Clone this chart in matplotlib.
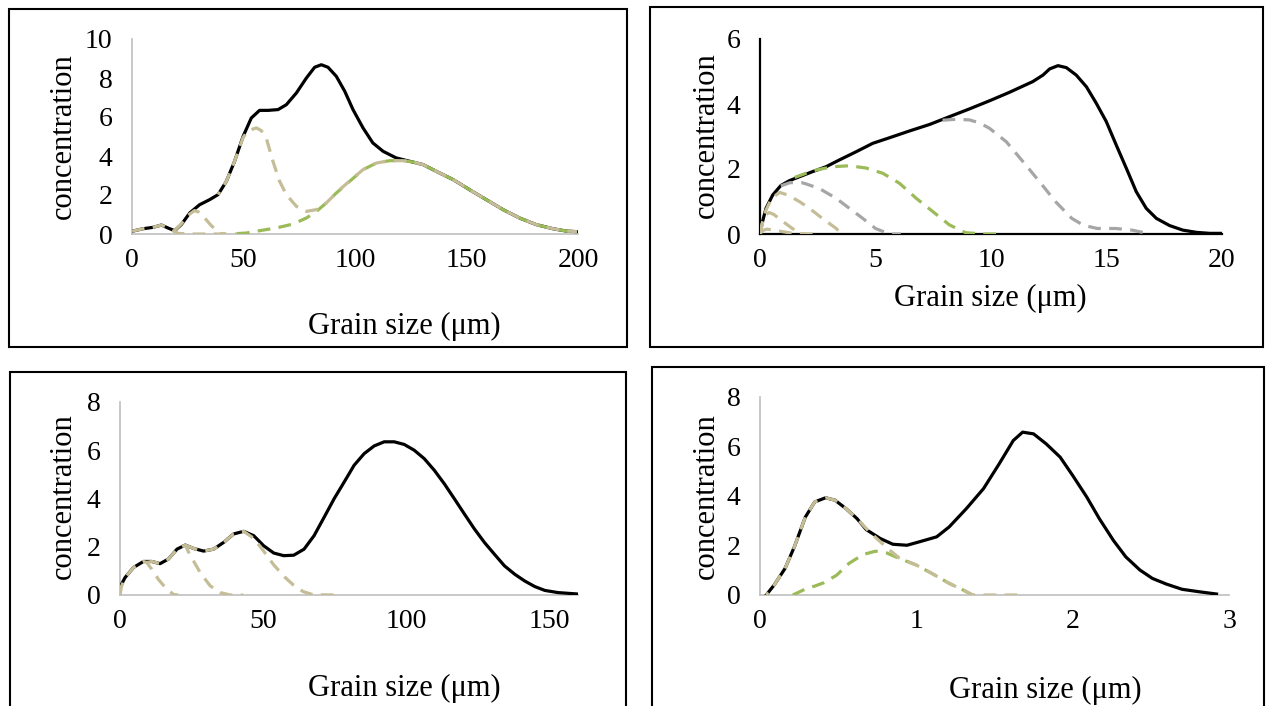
import matplotlib
matplotlib.use("Agg")
import matplotlib.pyplot as plt
from matplotlib.patches import Rectangle

plt.rcParams['font.family'] = ['Liberation Serif', 'DejaVu Serif']
plt.rcParams['lines.solid_joinstyle'] = 'round'
plt.rcParams['lines.dash_joinstyle'] = 'round'

# ---------------- Panel 1 (0-200 um) ----------------
p1_total_x = [0, 4.9, 9.4, 13.2, 16.1, 19.1, 22.1, 25.9, 30.3, 34.8, 38.6, 42.3, 46, 49.8, 53.5, 57.2, 61, 65.5,
              69.2, 73.7, 78.2, 81.9, 84.9, 87.9, 91.6, 95.4, 99.1, 103.6, 108, 112.6, 118.5, 124.5, 130.5, 136.5,
              144, 151.4, 158.9, 166.4, 173.8, 181.3, 188.8, 194.8, 199.6]
p1_total_y = [0.14, 0.27, 0.34, 0.46, 0.31, 0.17, 0.48, 1.08, 1.5, 1.76, 2.02, 2.7, 3.73, 5.0, 5.95, 6.34, 6.34, 6.38,
              6.63, 7.23, 8.0, 8.55, 8.68, 8.55, 8.09, 7.32, 6.38, 5.44, 4.67, 4.24, 3.9, 3.73, 3.56, 3.21,
              2.79, 2.27, 1.76, 1.25, 0.82, 0.48, 0.27, 0.15, 0.12]
p1_compA_x = [0, 4.9, 9.4, 13.2, 16.1, 19.1, 21, 25, 35, 47]
p1_compA_y = [0.14, 0.27, 0.34, 0.46, 0.31, 0.12, 0.03, 0.0, 0.0, 0.0]
p1_compB_x = [19, 22, 25, 28, 30, 32, 35, 38, 40, 42]
p1_compB_y = [0.17, 0.5, 0.95, 1.2, 1.12, 0.9, 0.5, 0.15, 0.02, 0.0]
p1_compC_x = [38.6, 42.3, 46, 49.8, 52, 55.8, 58, 60.2, 63.2, 66.2, 69.2, 73.7, 78.2, 82.7, 87.1, 93.1, 97.6,
              103.6, 109.6, 115.5, 121.5, 126, 130.5, 136.5, 144, 151.4, 158.9, 166.4, 173.8, 181.3, 188.8,
              194.8, 199.6]
p1_compC_y = [2.02, 2.7, 3.73, 4.95, 5.3, 5.44, 5.3, 4.92, 3.73, 2.7, 2.02, 1.42, 1.16, 1.25, 1.59, 2.27, 2.72,
              3.3, 3.64, 3.76, 3.76, 3.69, 3.56, 3.21, 2.79, 2.27, 1.76, 1.25, 0.82, 0.48, 0.27, 0.15, 0.12]
p1_green_x = [47, 51.3, 57.2, 64.7, 72.2, 78.2, 82.7, 87.1, 91.6, 97.6, 103.6, 109.6, 115.5, 121.5, 126, 130.5,
              136.5, 144, 151.4, 158.9, 166.4, 173.8, 181.3, 188.8, 194.8, 199.6]
p1_green_y = [0.02, 0.05, 0.17, 0.31, 0.51, 0.82, 1.16, 1.59, 2.1, 2.7, 3.3, 3.64, 3.76, 3.76, 3.69, 3.56,
              3.21, 2.79, 2.27, 1.76, 1.25, 0.82, 0.48, 0.27, 0.15, 0.12]

# ---------------- Panel 2 (0-20 um) ----------------
p2_total_x = [0, 0.09, 0.26, 0.55, 0.9, 1.27, 1.7, 2.28, 2.86, 3.44, 4.16, 4.88, 5.6, 6.47, 7.34, 8.2, 9.07,
              9.94, 10.8, 11.81, 12.25, 12.54, 12.9, 13.26, 13.69, 14.13, 14.56, 14.99, 15.42, 15.86, 16.29,
              16.72, 17.16, 17.73, 18.3, 18.9, 19.47, 20]
p2_total_y = [0.0, 0.33, 0.79, 1.2, 1.49, 1.64, 1.76, 1.92, 2.07, 2.28, 2.53, 2.79, 2.96, 3.17, 3.37, 3.61, 3.85,
              4.1, 4.36, 4.69, 4.89, 5.08, 5.18, 5.12, 4.89, 4.53, 4.02, 3.46, 2.74, 2.02, 1.3,
              0.79, 0.48, 0.26, 0.12, 0.05, 0.02, 0.02]
p2_beige1_x = [0, 0.1, 0.25, 0.5, 0.85, 1.2, 1.7, 2.14, 2.7, 3.3, 3.5, 3.6]
p2_beige1_y = [0, 0.33, 0.72, 1.1, 1.28, 1.2, 1.0, 0.79, 0.48, 0.17, 0.02, 0]
p2_beige2_x = [0, 0.1, 0.25, 0.4, 0.6, 1.0, 1.4, 1.7, 1.9]
p2_beige2_y = [0, 0.33, 0.6, 0.66, 0.6, 0.38, 0.17, 0.04, 0]
p2_beige3_x = [0, 0.1, 0.3, 0.5, 1.0, 1.5, 2.4]
p2_beige3_y = [0, 0.1, 0.15, 0.13, 0.07, 0.01, 0]
p2_gray1_x = [0.9, 1.3, 1.8, 2.0, 2.57, 3.29, 3.87, 4.45, 5.0, 5.6, 6.1]
p2_gray1_y = [1.48, 1.58, 1.58, 1.54, 1.4, 1.1, 0.79, 0.48, 0.17, 0.0, 0.0]
p2_green_x = [1.5, 2.0, 2.5, 3.15, 3.87, 4.59, 5.31, 6.04, 6.76, 7.48, 8.2, 8.9, 9.65, 10.5]
p2_green_y = [1.74, 1.87, 1.98, 2.07, 2.1, 2.03, 1.87, 1.56, 1.1, 0.69, 0.28, 0.04, 0.0, 0.0]
p2_gray2_x = [7.9, 8.5, 9.07, 9.5, 9.94, 10.66, 11.38, 12.1, 12.8, 13.5, 14.0, 14.6, 15.4, 16.1, 16.9]
p2_gray2_y = [3.5, 3.53, 3.51, 3.42, 3.25, 2.84, 2.23, 1.61, 0.99, 0.48, 0.27, 0.17, 0.17, 0.12, 0.0]

# ---------------- Panel 3 (0-160 um) ----------------
p3_total_x = [0.2, 1.75, 4.7, 8.2, 11.1, 14, 16.9, 19.9, 22.8, 25.7, 29.2, 32.7, 36.2, 39.7, 43.2, 46.7, 50.2,
              53.7, 57.2, 60.7, 64.3, 67.8, 71.3, 74.8, 78.3, 81.8, 85.3, 88.8, 92.3, 95.8, 99.3, 102.8, 106.3,
              109.8, 113.3, 116.8, 120.3, 123.8, 127.3, 130.8, 134.3, 137.9, 141.4, 144.9, 148.4, 153, 160]
p3_total_y = [0.37, 0.72, 1.14, 1.39, 1.39, 1.3, 1.49, 1.9, 2.07, 1.93, 1.82, 1.9, 2.18, 2.53, 2.64, 2.46, 2.04,
              1.74, 1.63, 1.65, 1.9, 2.46, 3.22, 3.99, 4.68, 5.38, 5.86, 6.18, 6.35, 6.35, 6.24, 6.0, 5.65,
              5.17, 4.61, 3.99, 3.36, 2.74, 2.18, 1.69, 1.21, 0.86, 0.58, 0.35, 0.19, 0.1, 0.04]
p3_beige1_x = [0, 0.5, 1.75, 4.7, 8.2, 9.3, 11.1, 13.4, 15.8, 18.7, 20.4]
p3_beige1_y = [0, 0.35, 0.72, 1.14, 1.39, 1.35, 1.07, 0.65, 0.31, 0.02, 0]
p3_beige2_x = [9.3, 11.1, 14, 16.9, 19.9, 22.8, 24.2, 28, 31.5, 35, 38.6, 43]
p3_beige2_y = [1.35, 1.39, 1.3, 1.49, 1.9, 2.07, 1.72, 0.93, 0.38, 0.1, 0, 0]
p3_beige3_x = [22.8, 25.7, 29.2, 32.7, 36.2, 39.7, 43.2, 46.7, 50, 53.7, 57.2, 60.7, 64, 67.5, 76]
p3_beige3_y = [2.07, 1.93, 1.82, 1.9, 2.18, 2.53, 2.64, 2.35, 1.85, 1.25, 0.78, 0.4, 0.14, 0.01, 0]

# ---------------- Panel 4 (0-3 um) ----------------
p4_total_x = [0.04, 0.09, 0.16, 0.22, 0.29, 0.35, 0.42, 0.48, 0.55, 0.62, 0.68, 0.77, 0.85, 0.94, 1.02, 1.13,
              1.21, 1.32, 1.43, 1.53, 1.62, 1.68, 1.75, 1.83, 1.92, 2.0, 2.09, 2.17, 2.26, 2.34, 2.43, 2.51,
              2.6, 2.7, 2.81, 2.92]
p4_total_y = [0, 0.4, 1.07, 1.95, 3.15, 3.76, 3.93, 3.83, 3.49, 3.09, 2.64, 2.28, 2.05, 2.01, 2.15, 2.35,
              2.75, 3.49, 4.3, 5.3, 6.24, 6.58, 6.51, 6.11, 5.57, 4.83, 3.96, 3.09, 2.21, 1.54, 1.01, 0.67,
              0.44, 0.23, 0.13, 0.04]
p4_beige_x = [0.04, 0.09, 0.16, 0.22, 0.29, 0.35, 0.42, 0.48, 0.55, 0.62, 0.7, 0.77, 0.83, 0.89, 1.0, 1.1,
              1.21, 1.3, 1.36, 1.65]
p4_beige_y = [0, 0.4, 1.07, 1.95, 3.15, 3.76, 3.93, 3.83, 3.49, 3.09, 2.55, 2.15, 1.81, 1.5, 1.21, 0.87,
              0.47, 0.2, 0, 0]
p4_green_x = [0.21, 0.3, 0.35, 0.41, 0.49, 0.57, 0.66, 0.74, 0.81, 0.89, 1.0, 1.1, 1.21, 1.3, 1.36]
p4_green_y = [0, 0.27, 0.36, 0.5, 0.8, 1.28, 1.64, 1.77, 1.7, 1.48, 1.21, 0.87, 0.47, 0.2, 0]

# ---------------- layout ----------------
W, H = 1266, 706
BEIGE = '#C4BD97'
GREEN = '#9BBB59'
GRAY = '#A6A6A6'
LIGHT = '#BFBFBF'
DASH = (0, (4, 2.6))
TICK_FS = 20
LABEL_FS = 22

fig = plt.figure(figsize=(W / 100, H / 100), dpi=100)
fig.patch.set_facecolor('white')


def place(left, right, top, bottom):
    return [left / W, 1 - bottom / H, (right - left) / W, (bottom - top) / H]


def style(ax, xlim, ylim, xticks, yticks, axcolor, axlw):
    ax.set_xlim(*xlim)
    ax.set_ylim(*ylim)
    ax.set_xticks(xticks)
    ax.set_yticks(yticks)
    ax.set_xticklabels([str(t) for t in xticks])
    ax.set_yticklabels([str(t) for t in yticks])
    for s in ('top', 'right'):
        ax.spines[s].set_visible(False)
    for s in ('left', 'bottom'):
        ax.spines[s].set_color(axcolor)
        ax.spines[s].set_linewidth(axlw)
    ax.tick_params(axis='both', length=0, labelsize=TICK_FS, colors='black')
    ax.tick_params(axis='x', pad=10)
    ax.tick_params(axis='y', pad=14)
    ax.patch.set_alpha(0)
    for sp in ax.spines.values():
        sp.set_zorder(0.5)


def border(l, t, r, b):
    fig.patches.append(Rectangle((l / W, 1 - b / H), (r - l) / W, (b - t) / H, transform=fig.transFigure,
                                 fill=False, edgecolor='black', linewidth=1.5, clip_on=False))


def labels(xc, yc, yx, yy):
    fig.text(xc / W, 1 - yc / H, 'Grain size (μm)', ha='center', va='center', fontsize=LABEL_FS)
    fig.text(yx / W, 1 - yy / H, 'concentration', ha='center', va='center', rotation=90, fontsize=LABEL_FS)


border(9, 9, 627, 347)
border(650, 7, 1263, 347)
border(10, 372, 626, 720)
border(652, 367, 1264, 720)

lw = 2.3
dlw = 2.3

# Panel 1
ax1 = fig.add_axes(place(132, 578, 39, 234))
ax1.plot(p1_total_x, p1_total_y, color='black', lw=lw, solid_capstyle='round')
ax1.plot(p1_green_x, p1_green_y, color=GREEN, lw=dlw, ls=DASH)
ax1.plot(p1_compA_x, p1_compA_y, color=BEIGE, lw=dlw, ls=DASH)
ax1.plot(p1_compB_x, p1_compB_y, color=BEIGE, lw=dlw, ls=DASH)
ax1.plot(p1_compC_x, p1_compC_y, color=BEIGE, lw=dlw, ls=(3, (4, 2.6)))
style(ax1, (0, 200), (0, 10), [0, 50, 100, 150, 200], [0, 2, 4, 6, 8, 10], LIGHT, 1.2)
labels(404, 326, 63, 136)

# Panel 2
ax2 = fig.add_axes(place(760, 1222, 39, 234))
ax2.plot(p2_total_x, p2_total_y, color='black', lw=lw)
ax2.plot(p2_gray2_x, p2_gray2_y, color=GRAY, lw=dlw, ls=DASH)
ax2.plot(p2_green_x, p2_green_y, color=GREEN, lw=dlw, ls=DASH)
ax2.plot(p2_gray1_x, p2_gray1_y, color=GRAY, lw=dlw, ls=DASH)
ax2.plot(p2_beige1_x, p2_beige1_y, color=BEIGE, lw=dlw, ls=DASH)
ax2.plot(p2_beige2_x, p2_beige2_y, color=BEIGE, lw=dlw, ls=DASH)
ax2.plot(p2_beige3_x, p2_beige3_y, color=BEIGE, lw=dlw, ls=DASH)
style(ax2, (0, 20), (0, 6), [0, 5, 10, 15, 20], [0, 2, 4, 6], 'black', 1.6)
labels(990, 298, 706, 135)

# Panel 3
ax3 = fig.add_axes(place(120, 578, 402, 595))
ax3.plot(p3_total_x, p3_total_y, color='black', lw=lw)
ax3.plot(p3_beige1_x, p3_beige1_y, color=BEIGE, lw=dlw, ls=DASH)
ax3.plot(p3_beige2_x, p3_beige2_y, color=BEIGE, lw=dlw, ls=DASH)
ax3.plot(p3_beige3_x, p3_beige3_y, color=BEIGE, lw=dlw, ls=DASH)
style(ax3, (0, 160), (0, 8), [0, 50, 100, 150], [0, 2, 4, 6, 8], LIGHT, 1.2)
labels(404, 688, 63, 496)

# Panel 4
ax4 = fig.add_axes(place(760, 1229, 397, 595))
ax4.plot(p4_total_x, p4_total_y, color='black', lw=lw)
ax4.plot(p4_green_x, p4_green_y, color=GREEN, lw=dlw, ls=DASH)
ax4.plot(p4_beige_x, p4_beige_y, color=BEIGE, lw=dlw, ls=(3, (4, 2.6)))
style(ax4, (0, 3), (0, 8), [0, 1, 2, 3], [0, 2, 4, 6, 8], LIGHT, 1.2)
labels(1045, 690, 706, 496)

fig.savefig('out.png', dpi=100, facecolor='white')
